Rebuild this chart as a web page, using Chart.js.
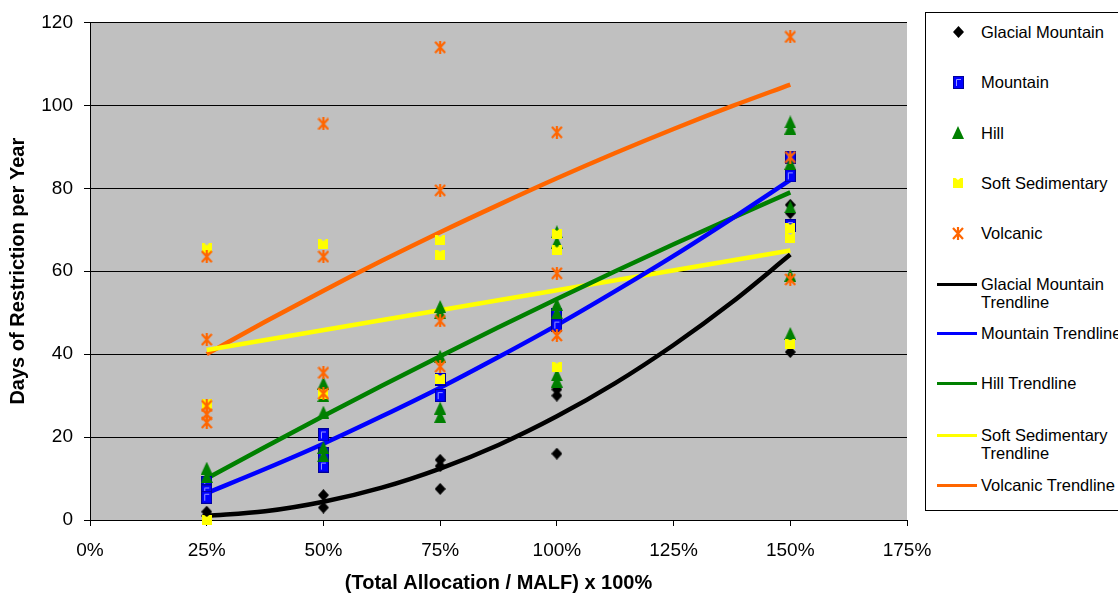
<!DOCTYPE html>
<html>
<head>
<meta charset="utf-8">
<script src="https://cdn.jsdelivr.net/npm/chart.js@4.4.0/dist/chart.umd.min.js"></script>
<style>
  html, body { margin: 0; padding: 0; background: #fff; overflow: hidden; }
  #wrap { position: relative; width: 1118px; height: 597px; overflow: hidden; }
  #legend {
    position: absolute; left: 925px; top: 12px; width: 230px; height: 499px;
    border: 1px solid #000; box-sizing: border-box; background: #fff;
    font-family: "Liberation Sans", Arial, sans-serif; font-size: 16.5px; color: #000;
  }
  .lg-mark { position: absolute; }
  .lg-line { position: absolute; left: 11px; width: 40px; height: 3px; }
  .lg-text { position: absolute; left: 55px; line-height: 18px; white-space: nowrap; }
</style>
</head>
<body>
<div id="wrap">
  <canvas id="c" width="1118" height="597"></canvas>
  <div id="legend"></div>
</div>
<script>
// Allocation level, as % of MALF, for each observation
const glacialX  = [25, 25, 50, 50, 75, 75, 75, 100, 100, 100, 150, 150, 150];
const glacialY  = [2, 1, 6, 3, 14.5, 13, 7.5, 31.5, 30, 16, 76, 74, 40.5];

const mountainX = [25, 25, 25, 50, 50, 50, 75, 75, 100, 100, 150, 150, 150];
const mountainY = [9, 7, 5.5, 20.5, 16, 13, 34, 30, 49.5, 47, 87.5, 83, 71];

const hillX = [25, 25, 50, 50, 50, 50, 50, 75, 75, 75, 75, 75, 100, 100, 100, 100, 100, 100, 150, 150, 150, 150, 150, 150];
const hillY = [12.5, 10.5, 33, 30, 26, 17.5, 15.5, 51.5, 50, 39.5, 27, 25, 69.5, 67, 52, 50, 35, 33.5, 96, 94.5, 86, 75.5, 59, 45];

const softX = [25, 25, 25, 50, 50, 75, 75, 75, 100, 100, 100, 150, 150, 150];
const softY = [65.5, 28, 0, 66.5, 30.5, 67.5, 64, 34, 69, 65, 37, 70.5, 68, 42.5];

const volcanicX = [25, 25, 25, 25, 25, 50, 50, 50, 50, 75, 75, 75, 75, 100, 100, 100, 150, 150, 150];
const volcanicY = [63.5, 43.5, 27.5, 25.5, 23.5, 95.5, 63.5, 35.5, 30.5, 114, 79.5, 48, 37, 93.5, 59.5, 44.5, 116.5, 87.5, 58];

// Fitted trendlines, sampled along the allocation axis
const trendX          = [25, 37.5, 50, 62.5, 75, 87.5, 100, 112.5, 125, 137.5, 150];
const glacialTrend    = [1.0, 2.1, 4.4, 7.8, 12.4, 18.1, 25.0, 33.0, 42.2, 52.5, 64.0];
const mountainTrend   = [6.5, 12.3, 18.4, 25.0, 31.9, 39.3, 47.0, 55.2, 63.7, 72.7, 82.0];
const hillTrend       = [10.0, 17.6, 25.1, 32.4, 39.5, 46.5, 53.3, 60.0, 66.5, 72.8, 79.0];
const volcanicTrend   = [40.0, 47.8, 55.3, 62.5, 69.4, 76.0, 82.4, 88.5, 94.3, 99.8, 105.0];
const softTrendX      = [25, 150];
const softTrend       = [41, 65];

// Axis ticks
const xTicks = [0, 25, 50, 75, 100, 125, 150, 175];
const yTicks = [0, 20, 40, 60, 80, 100, 120];

const FONT = '"Liberation Sans", Arial, sans-serif';
Chart.defaults.font.family = FONT;
Chart.defaults.color = '#000';

// Marker glyphs, painted once and reused for the plot and the legend
function markerCanvas(w, h, paint) {
  const c = document.createElement('canvas');
  c.width = w; c.height = h;
  paint(c.getContext('2d'), w, h);
  return c;
}
const diamondMark = markerCanvas(11, 12, (g, w, h) => {
  g.fillStyle = '#000';
  g.beginPath(); g.moveTo(w / 2, 0); g.lineTo(w, h / 2); g.lineTo(w / 2, h); g.lineTo(0, h / 2); g.closePath(); g.fill();
});
const squareMark = markerCanvas(11, 13, (g, w, h) => {
  g.fillStyle = '#0000ff'; g.fillRect(0, 0, w, h);
  g.strokeStyle = '#000099'; g.lineWidth = 1; g.strokeRect(0.5, 0.5, w - 1, h - 1);
  g.strokeStyle = '#9999ff';
  g.beginPath(); g.moveTo(3.5, h - 3); g.lineTo(3.5, 3.5); g.lineTo(w - 3, 3.5); g.stroke();
});
const triangleMark = markerCanvas(12, 13, (g, w, h) => {
  g.fillStyle = '#008000';
  g.beginPath(); g.moveTo(w / 2, 0); g.lineTo(w, h); g.lineTo(0, h); g.closePath(); g.fill();
});
const notchMark = markerCanvas(10, 10, (g, w, h) => {
  g.fillStyle = '#ffff00';
  g.beginPath(); g.moveTo(0, 0); g.lineTo(2.5, 0); g.lineTo(5, 2); g.lineTo(7.5, 0); g.lineTo(w, 0);
  g.lineTo(w, h); g.lineTo(0, h); g.closePath(); g.fill();
});
const starMark = markerCanvas(12, 13, (g, w, h) => {
  g.strokeStyle = '#ff6600'; g.lineWidth = 2.2;
  g.beginPath();
  g.moveTo(1, 1); g.lineTo(w - 1, h - 1);
  g.moveTo(w - 1, 1); g.lineTo(1, h - 1);
  g.moveTo(w / 2, 0); g.lineTo(w / 2, h);
  g.stroke();
});

const pts = (xs, ys) => xs.map((x, i) => ({ x, y: ys[i] }));

function scatterSet(label, xs, ys, mark, order) {
  return { label, data: pts(xs, ys), showLine: false, pointStyle: mark, pointRadius: 5,
           pointHoverRadius: 5, clip: false, order, legendMark: mark };
}
function trendSet(label, xs, ys, color, order) {
  return { label, data: pts(xs, ys), showLine: true, borderColor: color, borderWidth: 4.5,
           pointRadius: 0, pointHoverRadius: 0, fill: false, tension: 0.4,
           cubicInterpolationMode: 'monotone', order, legendColor: color };
}

const datasets = [
  scatterSet('Glacial Mountain', glacialX, glacialY, diamondMark, 5),
  scatterSet('Mountain', mountainX, mountainY, squareMark, 4),
  scatterSet('Hill', hillX, hillY, triangleMark, 3),
  scatterSet('Soft Sedimentary', softX, softY, notchMark, 2),
  scatterSet('Volcanic', volcanicX, volcanicY, starMark, 1),
  trendSet('Glacial Mountain Trendline', trendX, glacialTrend, '#000000', 10),
  trendSet('Mountain Trendline', trendX, mountainTrend, '#0000ff', 11),
  trendSet('Hill Trendline', trendX, hillTrend, '#008000', 12),
  trendSet('Soft Sedimentary Trendline', softTrendX, softTrend, '#ffff00', 13),
  trendSet('Volcanic Trendline', trendX, volcanicTrend, '#ff6600', 14)
];

// Grey fill behind the plotting area
const plotBackground = {
  id: 'plotBackground',
  beforeDraw(chart) {
    const { ctx, chartArea: a } = chart;
    ctx.save();
    ctx.fillStyle = '#c0c0c0';
    ctx.fillRect(a.left, a.top, a.right - a.left, a.bottom - a.top);
    ctx.restore();
  }
};

const chart = new Chart(document.getElementById('c'), {
  type: 'scatter',
  data: { datasets },
  plugins: [plotBackground],
  options: {
    responsive: false,
    devicePixelRatio: 1,
    animation: false,
    layout: { padding: { top: 20, right: 211, bottom: 0, left: 0 } },
    plugins: { legend: { display: false }, tooltip: { enabled: false } },
    scales: {
      x: {
        type: 'linear', min: xTicks[0], max: xTicks[xTicks.length - 1],
        afterBuildTicks(s) { s.ticks = xTicks.map(v => ({ value: v })); },
        afterFit(s) { s.height = 77; },
        ticks: { callback: v => v + '%', font: { size: 19 }, padding: 13, maxRotation: 0, autoSkip: false, color: '#000' },
        grid: { drawOnChartArea: false, drawTicks: true, tickLength: 6, color: '#000' },
        border: { display: true, color: '#000', width: 1 },
        title: { display: true, text: '(Total Allocation / MALF) x 100%', color: '#000',
                 font: { size: 20, weight: 'bold' }, padding: { top: 0, bottom: 2 } }
      },
      y: {
        type: 'linear', min: yTicks[0], max: yTicks[yTicks.length - 1],
        afterBuildTicks(s) { s.ticks = yTicks.map(v => ({ value: v })); },
        afterFit(s) { s.width = 90; },
        ticks: { font: { size: 19 }, padding: 11, color: '#000' },
        grid: { color: '#000', lineWidth: 1, drawTicks: true, tickLength: 6 },
        border: { display: true, color: '#000', width: 1 },
        title: { display: true, text: 'Days of Restriction per Year', color: '#000',
                 font: { size: 20, weight: 'bold' }, padding: { top: 6, bottom: 0 } }
      }
    }
  }
});

// Boxed legend on the right, built from the chart's datasets
(function buildLegend() {
  const box = document.getElementById('legend');
  const rows = [31.5, 82, 132.5, 183, 233, 284, 333, 383, 435, 485];
  const lineBreaks = {
    'Glacial Mountain Trendline': ['Glacial Mountain', 'Trendline'],
    'Soft Sedimentary Trendline': ['Soft Sedimentary', 'Trendline']
  };
  chart.data.datasets.forEach((ds, i) => {
    const cy = rows[i] - 13;
    if (ds.legendMark) {
      const m = ds.legendMark;
      const c = document.createElement('canvas');
      c.width = m.width; c.height = m.height;
      c.getContext('2d').drawImage(m, 0, 0);
      c.className = 'lg-mark';
      c.style.left = (32 - m.width / 2) + 'px';
      c.style.top = (cy - m.height / 2) + 'px';
      box.appendChild(c);
    } else {
      const l = document.createElement('div');
      l.className = 'lg-line';
      l.style.background = ds.legendColor;
      l.style.top = (cy - 1.5) + 'px';
      box.appendChild(l);
    }
    const t = document.createElement('div');
    t.className = 'lg-text';
    t.style.top = (cy - 9) + 'px';
    (lineBreaks[ds.label] || [ds.label]).forEach((part, k) => {
      if (k) t.appendChild(document.createElement('br'));
      t.appendChild(document.createTextNode(part));
    });
    box.appendChild(t);
  });
})();
</script>
</body>
</html>
